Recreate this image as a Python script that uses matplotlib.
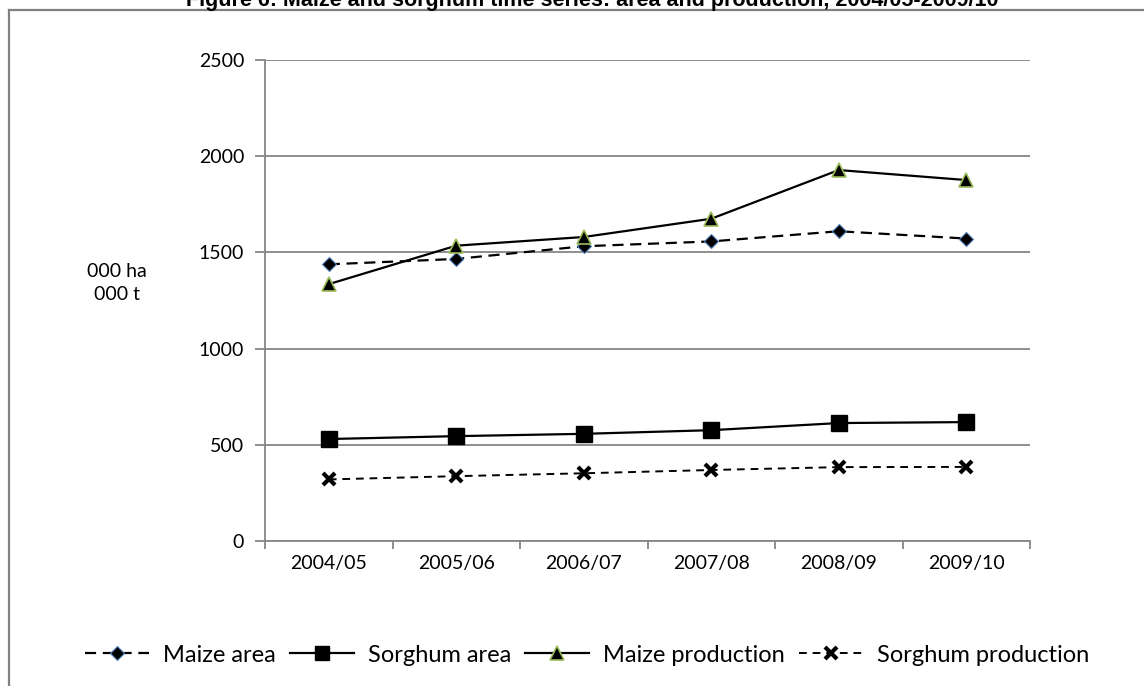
import matplotlib.pyplot as plt
from matplotlib.lines import Line2D
import numpy as np

# seasons and series (000 ha / 000 t)
seasons = ['2004/05', '2005/06', '2006/07', '2007/08', '2008/09', '2009/10']
maize_area = [1438, 1466, 1532, 1557, 1610, 1572]
sorghum_area = [530, 545, 557, 576, 613, 618]
maize_prod = [1335, 1535, 1580, 1675, 1928, 1876]
sorghum_prod = [320, 337, 352, 369, 384, 385]

plt.rcParams['font.family'] = ['Lato', 'DejaVu Sans']

W, H = 1144, 686
fig = plt.figure(figsize=(W / 100, H / 100), dpi=100)
fig.patch.set_facecolor('white')

# outer border of the chart area (runs off the right and bottom)
fig.add_artist(Line2D([9 / W, 9 / W], [0, 1 - 10 / H], transform=fig.transFigure,
                      color='#808080', lw=1.6))
fig.add_artist(Line2D([9 / W, 1], [1 - 10 / H, 1 - 10 / H], transform=fig.transFigure,
                      color='#808080', lw=1.6))

fig.text(0.518, 1 - 6 / H,
         'Figure 6: Maize and sorghum time series: area and production, 2004/05-2009/10',
         ha='center', va='baseline', fontsize=15.5, fontweight='bold',
         family='Liberation Sans')

ax = fig.add_axes([265 / W, 1 - 541 / H, (1030 - 265) / W, (541 - 60) / H])
x = np.arange(len(seasons))
grey = '#868686'

ax.set_ylim(0, 2500)
ax.set_xlim(-0.5, len(seasons) - 0.5)
ax.set_yticks(range(0, 2501, 500))
ax.yaxis.grid(True, color=grey, lw=1.3)
ax.set_axisbelow(True)
for s in ['top', 'right']:
    ax.spines[s].set_visible(False)
for s in ['left', 'bottom']:
    ax.spines[s].set_color(grey)
    ax.spines[s].set_linewidth(1.3)

ax.set_xticks(np.arange(-0.5, len(seasons)), labels=[])
ax.set_xticks(x, labels=seasons, minor=True)
ax.tick_params(axis='x', which='major', length=6, color=grey, width=1.3)
ax.tick_params(axis='x', which='minor', length=0, pad=10, labelsize=14)
ax.tick_params(axis='y', length=7, color=grey, width=1.3, pad=8, labelsize=14)

ax.plot(x, maize_area, ls=(0, (5, 3)), color='black', lw=1.6, marker='D',
        markersize=7, markerfacecolor='black', markeredgecolor='#4F81BD',
        markeredgewidth=0.8, label='Maize area')
ax.plot(x, sorghum_area, ls='-', color='black', lw=1.6, marker='s',
        markersize=11, markerfacecolor='black', markeredgecolor='black',
        label='Sorghum area')
ax.plot(x, maize_prod, ls='-', color='black', lw=1.6, marker='^',
        markersize=10, markerfacecolor='black', markeredgecolor='#9BBB59',
        markeredgewidth=1.2, label='Maize production')
ax.plot(x, sorghum_prod, ls=(0, (4, 3)), color='black', lw=1.4, marker='x',
        markersize=9, markeredgewidth=3, label='Sorghum production')

fig.text(117 / W, 1 - 283 / H, '000 ha\n000 t', ha='center', va='center',
         fontsize=14, linespacing=1.4)

fig.legend(loc='center', bbox_to_anchor=(587 / W, 1 - 655 / H), ncol=4, frameon=False,
           fontsize=17, handlelength=2.7, columnspacing=0.6, handletextpad=0.6,
           markerscale=0.95)

fig.savefig('out.png', dpi=100)
